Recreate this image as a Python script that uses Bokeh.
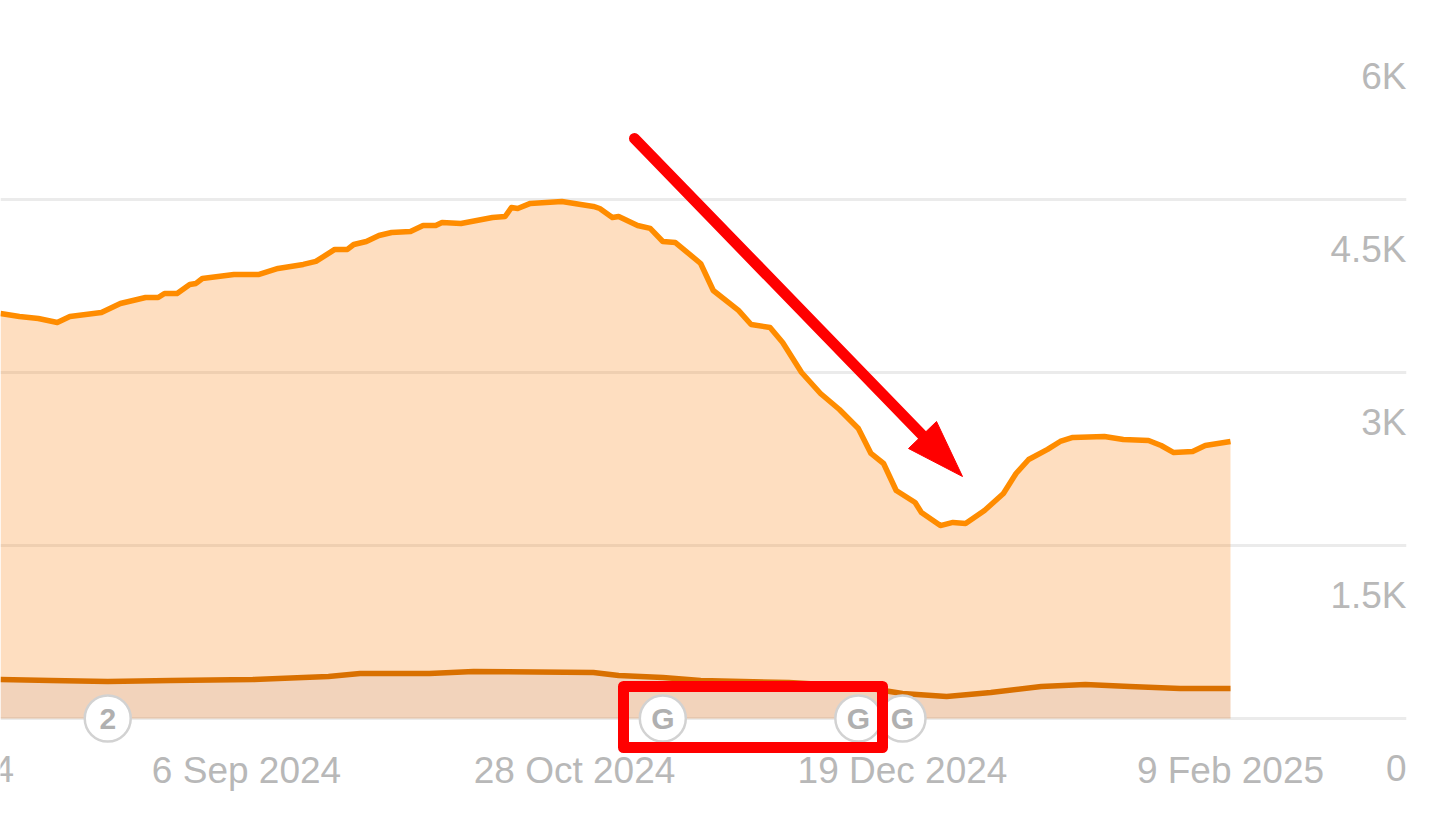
from datetime import datetime, timedelta
from bokeh.embed import file_html
from bokeh.resources import INLINE
from bokeh.core.properties import value
from bokeh.plotting import figure
from bokeh.models import (Range1d, FixedTicker, DatetimeAxis, LinearAxis, Arrow, PolyAnnotation,
                          BoxAnnotation, ColumnDataSource, Grid)

top_dates = ["2024-07-29","2024-08-01","2024-08-04","2024-08-07","2024-08-09","2024-08-14","2024-08-17","2024-08-21",
 "2024-08-23","2024-08-24","2024-08-26","2024-08-28","2024-08-29","2024-08-30","2024-09-04","2024-09-08","2024-09-11",
 "2024-09-15","2024-09-17","2024-09-20","2024-09-22","2024-09-23","2024-09-25","2024-09-27","2024-09-29","2024-10-02",
 "2024-10-04","2024-10-06","2024-10-07","2024-10-10","2024-10-15","2024-10-17","2024-10-18","2024-10-19","2024-10-21",
 "2024-10-26","2024-10-31","2024-11-01","2024-11-03","2024-11-04","2024-11-07","2024-11-09","2024-11-11","2024-11-13",
 "2024-11-17","2024-11-19","2024-11-23","2024-11-25","2024-11-28","2024-11-30","2024-12-03","2024-12-06","2024-12-09",
 "2024-12-12","2024-12-14","2024-12-16","2024-12-18","2024-12-21","2024-12-22","2024-12-25","2024-12-27","2024-12-29",
 "2025-01-01","2025-01-04","2025-01-06","2025-01-08","2025-01-11","2025-01-13","2025-01-15","2025-01-20","2025-01-23",
 "2025-01-27","2025-01-29","2025-01-31","2025-02-03","2025-02-05","2025-02-09"]
top_values = [3512,3486,3468,3434,3486,3520,3598,3650,3650,3685,3685,3763,3772,3815,3850,3850,3902,3937,3963,4067,4067,
 4110,4136,4188,4214,4223,4275,4275,4301,4292,4344,4353,4431,4422,4466,4483,4440,4422,4344,4353,4275,4249,4136,4127,
 3945,3711,3538,3416,3390,3260,3000,2818,2679,2515,2298,2211,1977,1873,1786,1673,1700,1691,1804,1951,2124,2246,2333,
 2402,2437,2445,2419,2411,2367,2306,2315,2367,2402]

low_dates = ["2024-07-29","2024-08-06","2024-08-15","2024-08-25","2024-09-07","2024-09-15","2024-09-19","2024-09-24",
 "2024-10-05","2024-10-12","2024-10-31","2024-11-04","2024-11-11","2024-11-17","2024-12-01","2024-12-12","2024-12-19",
 "2024-12-26","2025-01-02","2025-01-10","2025-01-17","2025-01-24","2025-02-01","2025-02-09"]
low_values = [338,329,321,329,338,356,364,390,390,408,399,373,356,329,312,277,217,191,225,277,295,277,260,260]

marker_dates = ["2024-12-19","2024-12-12","2024-11-11","2024-08-15"]
marker_labels = ["G","G","G","2"]

x_tick_dates = ["2024-09-06","2024-10-28","2024-12-19","2025-02-09"]
x_tick_labels = ["6 Sep 2024","28 Oct 2024","19 Dec 2024","9 Feb 2025"]
x_clipped_date = "2024-07-16"
x_clipped_label = "16 Jul 2024"
y_ticks = [0,1500,3000,4500,6000]
y_tick_labels = ["0","1.5K","3K","4.5K","6K"]
grid_ticks = [0,1500,3000,4500]

def d(s):
    return datetime.strptime(s, "%Y-%m-%d")
def ms(s):
    return (d(s) - datetime(1970,1,1)).total_seconds()*1000
def sy(y):  # screen units of annotations count from the bottom
    return 816 - y

FW, FH = 1406, 816
PX_PER_DAY = 328/52
x0 = d("2024-07-29")
x1 = x0 + timedelta(days=FW/PX_PER_DAY)
PX_PER_UNIT = 173/1500
Y_TOP = 718/PX_PER_UNIT
Y_BOT = -(FH-718)/PX_PER_UNIT
SHIFT = 50/PX_PER_UNIT
FONT = "Liberation Sans"
TEXT = "#b8b8b8"

p = figure(frame_width=FW, frame_height=FH, x_axis_type=None, y_axis_type=None,
           x_range=Range1d(x0, x1), y_range=Range1d(Y_BOT, Y_TOP),
           output_backend="svg", toolbar_location=None,
           min_border=0, min_border_right=36, outline_line_color=None,
           background_fill_color="white", border_fill_color="white")
p.extra_y_ranges = {"labels": Range1d(Y_BOT+SHIFT, Y_TOP+SHIFT)}

xa = DatetimeAxis(ticker=FixedTicker(ticks=[ms(s) for s in x_tick_dates]),
                  major_label_overrides={ms(s): l for s, l in zip(x_tick_dates, x_tick_labels)},
                  major_label_standoff=-73, major_label_text_font=FONT,
                  major_label_text_font_size="37px", major_label_text_color=TEXT,
                  axis_line_color=None, major_tick_line_color=None, minor_tick_line_color=None)
p.add_layout(xa, "below")
ya = LinearAxis(y_range_name="labels", ticker=FixedTicker(ticks=y_ticks),
                major_label_overrides=dict(zip(y_ticks, y_tick_labels)),
                major_label_standoff=-(FW+6), major_label_text_font=FONT,
                major_label_text_font_size="37px", major_label_text_color=TEXT,
                major_label_text_align="right", major_label_text_baseline="middle",
                axis_line_color=None, major_tick_line_color=None, minor_tick_line_color=None)
p.add_layout(ya, "left")

p.add_layout(Grid(dimension=1, ticker=FixedTicker(ticks=grid_ticks), grid_line_color="#ebebeb", grid_line_width=3))

p.text([d(x_clipped_date)], [-51/PX_PER_UNIT], text=[x_clipped_label], text_align="center", text_baseline="middle",
       text_color=TEXT, text_font=value(FONT), text_font_size="37px")

td = [d(s) for s in top_dates]
ld = [d(s) for s in low_dates]
p.varea(x=td, y1=[0]*len(td), y2=top_values, fill_color="#fb8a1e", fill_alpha=0.28)
p.varea(x=ld, y1=[0]*len(ld), y2=low_values, fill_color="#c1aca8", fill_alpha=0.2)
p.line(td, top_values, line_color="#ff8c00", line_width=5.5, line_join="round")
p.line(ld, low_values, line_color="#d97000", line_width=5.5, line_join="round")

md = [d(s) for s in marker_dates]
src = ColumnDataSource(dict(x=md, y=[0]*len(md), t=marker_labels))
p.scatter("x", "y", source=src, size=46, fill_color="white", line_color="#d2d2d2", line_width=2.5)
p.text("x", "y", text="t", source=src, text_align="center", text_baseline="middle",
       text_color="#b0b0b0", text_font=value(FONT), text_font_style="bold", text_font_size="30px")

p.add_layout(BoxAnnotation(left=623, right=882, top=sy(686), bottom=sy(747),
                           left_units="screen", right_units="screen", top_units="screen", bottom_units="screen",
                           fill_alpha=0, line_color="#ff0000", line_width=11, line_alpha=1, line_join="round"))
p.add_layout(Arrow(end=None, x_start=634, y_start=sy(138), x_end=925, y_end=sy(438),
                   start_units="screen", end_units="screen",
                   line_color="#ff0000", line_width=11, line_cap="round"))
p.add_layout(PolyAnnotation(xs=[962,936,908], ys=[sy(476),sy(421),sy(448)], xs_units="screen", ys_units="screen",
                            fill_color="#ff0000", fill_alpha=1, line_color="#ff0000", line_width=1, line_alpha=1))

open("out.html", "w").write(file_html(p, INLINE))
